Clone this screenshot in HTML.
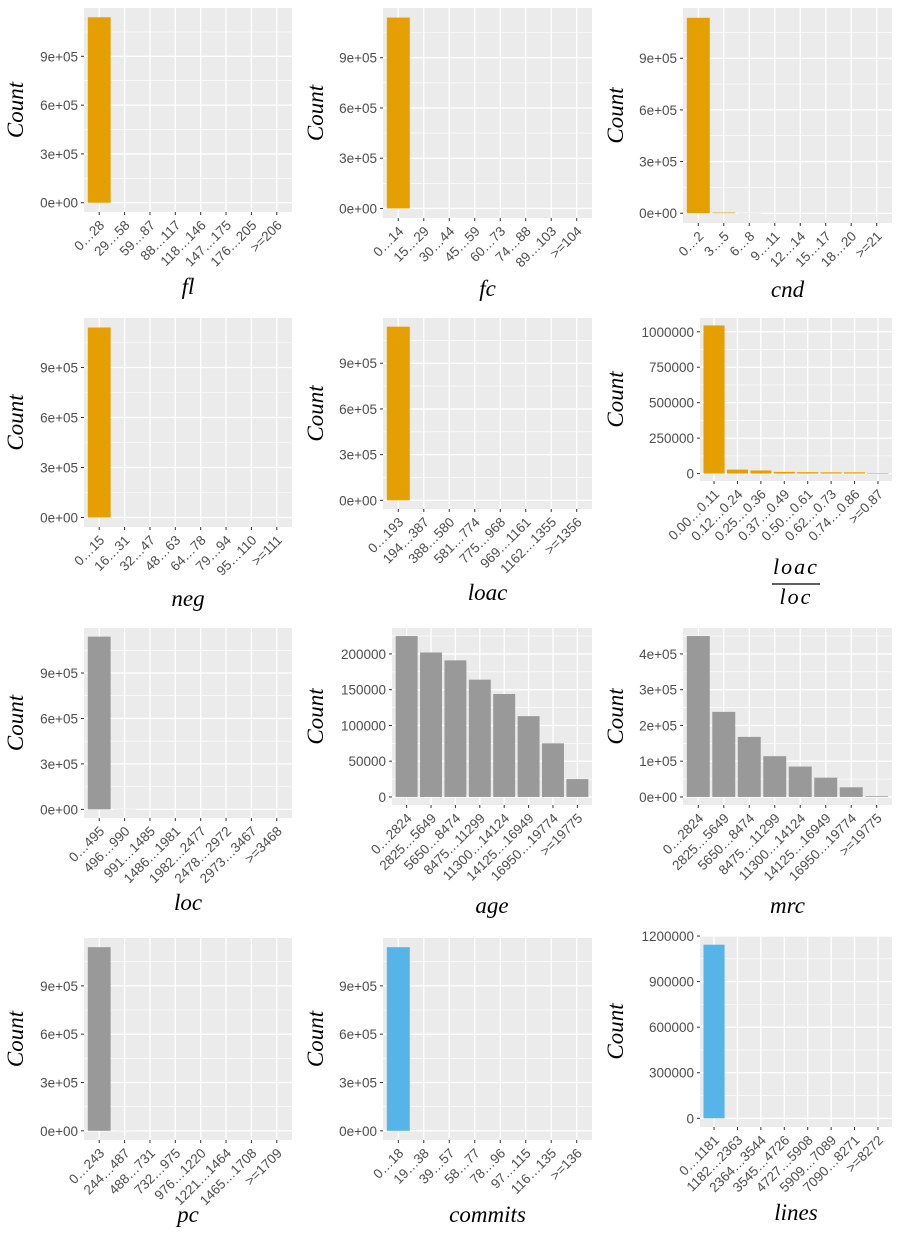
<!DOCTYPE html>
<html><head><meta charset="utf-8">
<style>
html,body{margin:0;padding:0;background:#fff;}
svg{display:block;}
.tl{font-family:"Liberation Sans",sans-serif;font-size:13.5px;fill:#4d4d4d;}
.tt{font-family:"Liberation Serif",serif;font-style:italic;fill:#000;}
</style></head>
<body>
<svg id="chart" width="900" height="1238" viewBox="0 0 900 1238" xmlns="http://www.w3.org/2000/svg"></svg>
<script>
// ---- data ----
const flCats = ["0…28","29…58","59…87","88…117","118…146","147…175","176…205",">=206"];
const flVals = [1140000,0,0,0,0,0,0,0];
const fcCats = ["0…14","15…29","30…44","45…59","60…73","74…88","89…103",">=104"];
const fcVals = [1140000,0,0,0,0,0,0,0];
const cndCats = ["0…2","3…5","6…8","9…11","12…14","15…17","18…20",">=21"];
const cndVals = [1135000,4000,1000,0,0,0,0,0];
const negCats = ["0…15","16…31","32…47","48…63","64…78","79…94","95…110",">=111"];
const negVals = [1140000,0,0,0,0,0,0,0];
const loacCats = ["0…193","194…387","388…580","581…774","775…968","969…1161","1162…1355",">=1356"];
const loacVals = [1140000,0,0,0,0,0,0,0];
const ratioCats = ["0.00…0.11","0.12…0.24","0.25…0.36","0.37…0.49","0.50…0.61","0.62…0.73","0.74…0.86",">=0.87"];
const ratioVals = [1045000,28000,22000,12000,10000,9000,9000,4000];
const locCats = ["0…495","496…990","991…1485","1486…1981","1982…2477","2478…2972","2973…3467",">=3468"];
const locVals = [1140000,1000,0,0,0,0,0,0];
const ageCats = ["0…2824","2825…5649","5650…8474","8475…11299","11300…14124","14125…16949","16950…19774",">=19775"];
const ageVals = [225000,202000,191000,164000,144000,113000,75000,25000];
const mrcCats = ["0…2824","2825…5649","5650…8474","8475…11299","11300…14124","14125…16949","16950…19774",">=19775"];
const mrcVals = [450000,238000,168000,114000,85000,54000,27000,2000];
const pcCats = ["0…243","244…487","488…731","732…975","976…1220","1221…1464","1465…1708",">=1709"];
const pcVals = [1140000,500,0,0,0,0,0,0];
const commitsCats = ["0…18","19…38","39…57","58…77","78…96","97…115","116…135",">=136"];
const commitsVals = [1140000,0,0,0,0,0,0,0];
const linesCats = ["0…1181","1182…2363","2364…3544","3545…4726","4727…5908","5909…7089","7090…8271",">=8272"];
const linesVals = [1143000,0,0,0,0,0,0,0];
const sciTicks = [0,300000,600000,900000];
const sciLabels = ["0e+00","3e+05","6e+05","9e+05"];
const ratioTicks = [0,250000,500000,750000,1000000];
const ageTicks = [0,50000,100000,150000,200000];
const mrcTicks = [0,100000,200000,300000,400000];
const mrcLabels = ["0e+00","1e+05","2e+05","3e+05","4e+05"];
const linesTicks = [0,300000,600000,900000,1200000];

const ORANGE="#E69F00", GRAY="#999999", BLUE="#56B4E9";
const panels = [
 {name:"fl",cats:flCats,vals:flVals,ticks:sciTicks,labels:sciLabels,col:ORANGE,L:84,R:292,T:8,B:212,ox:0,tb:294},
 {name:"fc",cats:fcCats,vals:fcVals,ticks:sciTicks,labels:sciLabels,col:ORANGE,L:383,R:592,T:8,B:218,ox:300,tb:296},
 {name:"cnd",cats:cndCats,vals:cndVals,ticks:sciTicks,labels:sciLabels,col:ORANGE,L:683,R:892,T:8,B:223,ox:600,tb:297},
 {name:"neg",cats:negCats,vals:negVals,ticks:sciTicks,labels:sciLabels,col:ORANGE,L:84,R:292,T:318,B:527,ox:0,tb:606},
 {name:"loac",cats:loacCats,vals:loacVals,ticks:sciTicks,labels:sciLabels,col:ORANGE,L:383,R:592,T:318,B:509,ox:300,tb:600},
 {name:"ratio",cats:ratioCats,vals:ratioVals,ticks:ratioTicks,labels:null,col:ORANGE,L:700,R:892,T:318,B:481,ox:600,tb:0},
 {name:"loc",cats:locCats,vals:locVals,ticks:sciTicks,labels:sciLabels,col:GRAY,L:84,R:292,T:628,B:818,ox:0,tb:910},
 {name:"age",cats:ageCats,vals:ageVals,ticks:ageTicks,labels:null,col:GRAY,L:392,R:592,T:628,B:805,ox:300,tb:913},
 {name:"mrc",cats:mrcCats,vals:mrcVals,ticks:mrcTicks,labels:mrcLabels,col:GRAY,L:683,R:892,T:628,B:805,ox:600,tb:913},
 {name:"pc",cats:pcCats,vals:pcVals,ticks:sciTicks,labels:sciLabels,col:GRAY,L:84,R:292,T:938,B:1140,ox:0,tb:1222},
 {name:"commits",cats:commitsCats,vals:commitsVals,ticks:sciTicks,labels:sciLabels,col:BLUE,L:383,R:592,T:938,B:1140,ox:300,tb:1222},
 {name:"lines",cats:linesCats,vals:linesVals,ticks:linesTicks,labels:null,col:BLUE,L:700,R:892,T:936,B:1127,ox:600,tb:1220}
];
const svg=document.getElementById('chart');
const NS="http://www.w3.org/2000/svg";
function mk(tag,attrs,parent){const e=document.createElementNS(NS,tag);for(const k in attrs)e.setAttribute(k,attrs[k]);(parent||svg).appendChild(e);return e;}

panels.forEach(p=>{
  const g=mk('g',{});
  
  
  const mx=Math.max(...p.vals);
  const ymin=-0.05*mx, ymax=1.05*mx;
  const y=v=>p.B-(v-ymin)/(ymax-ymin)*(p.B-p.T);
  const n=p.cats.length, bw=(p.R-p.L)/(n+0.2);
  const x=i=>p.L+(0.6+i)*bw;
  const bg=mk('rect',{x:p.L,y:p.T,width:p.R-p.L,height:p.B-p.T,fill:"#EBEBEB"},g);
  
  
  for(let i=0;i<p.ticks.length;i++){
    const vm=i<p.ticks.length-1?(p.ticks[i]+p.ticks[i+1])/2:p.ticks[i]+(p.ticks[1]-p.ticks[0])/2;
    if(y(vm)>p.T) mk('line',{x1:p.L,x2:p.R,y1:y(vm),y2:y(vm),stroke:"#fff","stroke-width":0.6},g);
  }
  p.ticks.forEach(t=>mk('line',{x1:p.L,x2:p.R,y1:y(t),y2:y(t),stroke:"#fff","stroke-width":1.3},g));
  p.cats.forEach((c,i)=>mk('line',{x1:x(i),x2:x(i),y1:p.T,y2:p.B,stroke:"#fff","stroke-width":1.3},g));
  p.vals.forEach((v,i)=>{
    const b=mk('rect',{x:x(i)-0.45*bw,y:Math.min(y(v),y(0)),width:0.9*bw,height:Math.abs(y(0)-y(v)),fill:p.col},g);
    
    
  });
  p.ticks.forEach((t,i)=>{
    mk('line',{x1:p.L-3,x2:p.L,y1:y(t),y2:y(t),stroke:"#333","stroke-width":1},g);
    const tx=mk('text',{x:p.L-6,y:y(t)+5,"text-anchor":"end",class:"tl"},g);
    tx.textContent=p.labels?p.labels[i]:String(t);
    
    
  });
  p.cats.forEach((c,i)=>{
    mk('line',{x1:x(i),x2:x(i),y1:p.B,y2:p.B+3,stroke:"#333","stroke-width":1},g);
    const ax=x(i)+6, ay=p.B+14;
    const tx=mk('text',{x:ax,y:ay,"text-anchor":"end",class:"tl",transform:`rotate(-45 ${ax} ${ay})`},g);
    tx.textContent=c;
    
    
  });
  const cy=(p.T+p.B)/2, cx=p.ox+23;
  const yt=mk('text',{x:cx,y:cy,"text-anchor":"middle",class:"tt","font-size":"23",transform:`rotate(-90 ${cx} ${cy})`},g);
  yt.textContent="Count";
  
  
  const mxp=(p.L+p.R)/2;
  if(p.name==="ratio"){
    const a=mk('text',{x:mxp,y:574,"text-anchor":"middle",class:"tt","font-size":"22","letter-spacing":"2"},g);
    a.textContent="loac";
    
    
    mk('line',{x1:mxp-24,x2:mxp+24,y1:584,y2:584,stroke:"#000","stroke-width":1.2},g);
    const b=mk('text',{x:mxp,y:604,"text-anchor":"middle",class:"tt","font-size":"22","letter-spacing":"2"},g);
    b.textContent="loc";
    
    
  } else {
    const xt=mk('text',{x:mxp,y:p.tb,"text-anchor":"middle",class:"tt","font-size":"23"},g);
    xt.textContent=p.name;
    
    
  }
});
</script>
</body></html>
